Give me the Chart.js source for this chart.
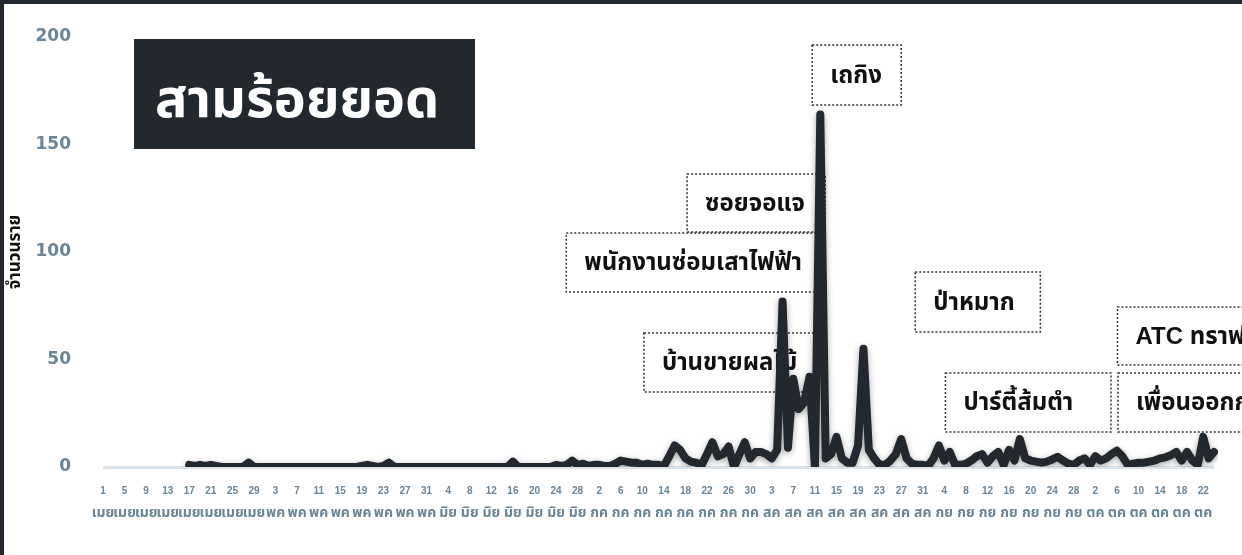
<!DOCTYPE html>
<html>
<head>
<meta charset="utf-8">
<script src="https://cdn.jsdelivr.net/npm/chart.js@4"></script>
<style>
  html, body { margin: 0; padding: 0; background: #fff; overflow: hidden; }
  #wrap { position: relative; width: 1242px; height: 555px; }
  #frame {
    position: absolute; left: 0; top: 0; width: 1400px; height: 700px;
    border: 4px solid #22282e; box-sizing: border-box; pointer-events: none;
  }
  #title {
    position: absolute; left: 134px; top: 39px; width: 341px; height: 110px;
    background: #22282e; color: #fff; box-sizing: border-box; padding-left: 21px;
    font: bold 54px "Noto Sans Thai", "Noto Sans", sans-serif; line-height: 124px;
    white-space: nowrap; overflow: hidden;
  }
</style>
</head>
<body>
<div id="wrap">
  <canvas id="chart"></canvas>
  <div id="title">สามร้อยยอด</div>
  <div id="frame"></div>
</div>
<script>
// เดือน (ย่อ) และจำนวนวันที่แสดงในแต่ละเดือน
const monthNames = ["เมย", "พค", "มิย", "กค", "สค", "กย", "ตค"];
const monthDays = [30, 31, 30, 31, 31, 30, 24];

// จำนวนรายต่อวัน ตั้งแต่ 1 เมย
const cases = [
  // เมย
  null, null, null, null, null, null, null, null, null, null, null, null, null, null, null, null,
  1, 0.5, 1, 0.5, 1, 0.5, 0, 0, 0, 0, 0, 2, 0, 0,
  // พค
  0, 0, 0, 0, 0, 0, 0, 0, 0, 0, 0, 0, 0, 0, 0, 0, 0, 0, 0.5, 1, 0.5, 0, 0.5, 2, 0, 0, 0, 0, 0, 0, 0,
  // มิย
  0, 0, 0, 0, 0, 0, 0, 0, 0, 0, 0, 0, 0, 0, 0, 2.5, 0, 0, 0, 0, 0, 0, 0, 1, 0.5, 1, 3, 1, 1.5, 0.5,
  // กค
  1, 1, 0.5, 0.5, 1.5, 3, 2.5, 2, 2, 1, 1.5, 1, 1, 0.5, 5, 10, 8, 4, 2.5, 2, 1, 6, 11.5, 5, 6, 9.5, 0, 6, 11.5, 4, 7,
  // สค
  7, 6, 4, 8, 77, 9, 41, 27, 30, 42, 0, 164, 4, 6, 14, 4, 2, 2, 10, 55, 8, 4, 1, 1, 3, 6, 13, 4, 1.5, 1, 1,
  // กย
  0.5, 4, 10, 3, 7, 1, 1, 1.5, 3, 5, 6, 2, 5, 7, 1, 8, 3, 13, 4, 3, 2.5, 2, 2.5, 3.5, 4.7, 3, 1.5, 1, 3, 4,
  // ตค
  1, 5, 3, 4, 6, 7.6, 5, 1, 1.5, 2, 2, 2.5, 3, 4, 4.5, 5.5, 7, 3, 7, 3, 1, 14, 4, 7
];

const yTicks = [0, 50, 100, 150, 200];

// ป้ายเหตุการณ์
const eventNames = [
  "เถกิง", "ซอยจอแจ", "พนักงานซ่อมเสาไฟฟ้า", "บ้านขายผลไม้",
  "ป่าหมาก", "ปาร์ตี้ส้มตำ", "ATC ทราฟฟิก", "เพื่อนออกกำลังกาย"
];
// กรอบของแต่ละป้าย ในหน่วยของแกน: [index เริ่ม, index จบ, ค่าบน, ค่าล่าง]
const eventBoxes = [
  [131.5, 148, 196.3, 168.4],
  [108.3, 133.9, 136.3, 109.3],
  [85.9, 133.9, 108.8, 81.4],
  [100.3, 133.3, 62.3, 34.9],
  [150.6, 173.8, 90.7, 62.8],
  [156.2, 186.9, 43.7, 16.3],
  [188.1, 230, 74.4, 47.4],
  [188.2, 230, 43.7, 16.3]
];

const dayLabels = [];
const monthLabels = [];
monthDays.forEach((n, m) => {
  for (let d = 1; d <= n; d++) {
    dayLabels.push(String(d));
    monthLabels.push(monthNames[m]);
  }
});

const tickColor = "#6a8597";
const lineColor = "#22282e";

const eventPlugin = {
  id: "events",
  beforeDatasetsDraw(chart) {
    const { ctx, scales: { x, y } } = chart;
    ctx.save();
    ctx.strokeStyle = "#333";
    ctx.lineWidth = 1.5;
    ctx.setLineDash([2, 2]);
    ctx.fillStyle = "#111";
    ctx.font = "bold 24px 'Liberation Sans', 'Noto Sans Thai', sans-serif";
    ctx.textBaseline = "middle";
    eventBoxes.forEach((b, k) => {
      const x0 = x.getPixelForValue(b[0]);
      const x1 = x.getPixelForValue(b[1]);
      const y0 = y.getPixelForValue(b[2]);
      const y1 = y.getPixelForValue(b[3]);
      ctx.strokeRect(x0, y0, x1 - x0, y1 - y0);
      ctx.fillText(eventNames[k], x0 + 18, (y0 + y1) / 2 + 1);
    });
    ctx.restore();
  }
};

// แถวชื่อเดือนใต้เลขวันที่
const monthRowPlugin = {
  id: "monthRow",
  afterDraw(chart) {
    const { ctx, chartArea, scales: { x } } = chart;
    ctx.save();
    ctx.fillStyle = tickColor;
    ctx.font = "bold 14px 'Noto Sans Thai', sans-serif";
    ctx.textAlign = "center";
    ctx.textBaseline = "middle";
    monthLabels.forEach((m, i) => {
      if (i % 4 === 0) ctx.fillText(m, x.getPixelForValue(i), chartArea.bottom + 47);
    });
    ctx.restore();
  }
};

const shadowPlugin = {
  id: "lineShadow",
  beforeDatasetDraw(chart) {
    const ctx = chart.ctx;
    ctx.save();
    ctx.shadowColor = "rgba(0,0,0,0.35)";
    ctx.shadowBlur = 6;
    ctx.shadowOffsetY = 2;
  },
  afterDatasetDraw(chart) {
    chart.ctx.restore();
  }
};

new Chart(document.getElementById("chart"), {
  type: "line",
  data: {
    labels: dayLabels,
    datasets: [{
      data: cases,
      borderColor: lineColor,
      borderWidth: 8,
      borderJoinStyle: "round",
      borderCapStyle: "round",
      pointRadius: 0,
      tension: 0,
      fill: false
    }]
  },
  options: {
    responsive: true,
    maintainAspectRatio: false,
    animation: false,
    events: [],
    layout: { padding: { left: 0, right: 28, top: 37, bottom: 58 } },
    plugins: { legend: { display: false }, tooltip: { enabled: false } },
    scales: {
      x: {
        afterFit: (scale) => { scale.height = 30; },
        grid: { display: false, drawTicks: false },
        border: { display: false },
        ticks: {
          autoSkip: false,
          maxRotation: 0,
          minRotation: 0,
          padding: 18,
          color: tickColor,
          font: { family: "'Liberation Sans', sans-serif", size: 10, weight: "bold", lineHeight: 1.2 },
          callback: (v, i) => (i % 4 === 0 ? dayLabels[i] : null)
        }
      },
      y: {
        min: 0,
        max: 200,
        afterFit: (scale) => {
          scale.width = 103;
          scale.paddingTop = 0;
          scale.paddingBottom = 0;
        },
        afterBuildTicks: (scale) => { scale.ticks = yTicks.map((v) => ({ value: v })); },
        border: { display: false },
        grid: {
          drawTicks: false,
          lineWidth: 3,
          color: (c) => (c.tick && c.tick.value === 0 ? "#dde4e9" : "rgba(0,0,0,0)")
        },
        ticks: {
          padding: 32,
          color: tickColor,
          font: { family: "'DejaVu Sans', sans-serif", size: 17, weight: "bold" }
        },
        title: {
          display: true,
          text: "จำนวนราย",
          color: "#111",
          padding: { top: 6, bottom: 0 },
          font: { family: "'Noto Sans Thai', sans-serif", size: 17, weight: "bold" }
        }
      }
    }
  },
  plugins: [eventPlugin, monthRowPlugin, shadowPlugin]
});
</script>
</body>
</html>
